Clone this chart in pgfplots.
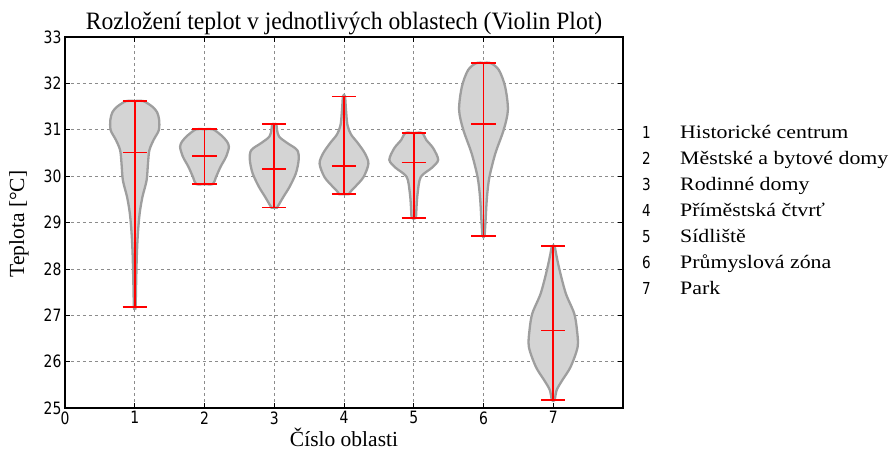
\documentclass[border=0pt]{standalone}
\usepackage{fontspec}
\setmainfont{Liberation Serif}
\newfontfamily\tickfont{DejaVu Sans}[FakeStretch=0.82]
\usepackage{graphicx}
\usepackage{pgfplots}
\pgfplotsset{compat=1.18}
\pgfplotsset{violin/.style={fill=black!17, draw=black!38, line width=2.3pt, smooth, tension=0.5, no markers},
  stat/.style={red, line width=1.6pt, no markers, unbounded coords=jump}}
\begin{document}
\begin{tikzpicture}[x=1pt,y=1pt]
\begin{axis}[at={(0,0)}, anchor=south west, scale only axis,
  width=558pt, height=371pt,
  xmin=0, xmax=8, ymin=25, ymax=33,
  xtick={0,...,7}, ytick={25,...,33},
  grid=major,
  major grid style={dash pattern=on 3pt off 3pt, black!45, line width=0.6pt},
  tick align=inside, xtick pos=both, ytick pos=both,
  major tick length=5pt,
  tick style={black, line width=0.6pt},
  axis line style={line width=1.2pt},
  ticklabel style={font=\tickfont\fontsize{17}{17}\selectfont},
  /pgf/number format/assume math mode=true,
]
% violin 1
\addplot[violin] table[x expr=1+\thisrow{w}, y=y]{
y w
27.18 0
27.18 0.012
27.7 0.02
28.3 0.03
28.76 0.045
29.19 0.07
29.55 0.11
29.91 0.17
30.28 0.19
30.56 0.21
30.78 0.27
30.99 0.345
31.21 0.35
31.38 0.32
31.5 0.25
31.62 0.12
31.62 0
31.62 -0.12
31.5 -0.25
31.38 -0.32
31.21 -0.35
30.99 -0.345
30.78 -0.27
30.56 -0.21
30.28 -0.19
29.91 -0.17
29.55 -0.11
29.19 -0.07
28.76 -0.045
28.3 -0.03
27.7 -0.02
27.18 -0.012
27.18 0
};
% violin 2
\addplot[violin] table[x expr=2+\thisrow{w}, y=y]{
y w
29.83 0
29.83 0.12
29.98 0.165
30.2 0.23
30.42 0.31
30.63 0.35
30.75 0.32
30.88 0.24
31.01 0.12
31.01 0
31.01 -0.12
30.88 -0.24
30.75 -0.32
30.63 -0.35
30.42 -0.31
30.2 -0.23
29.98 -0.165
29.83 -0.12
29.83 0
};
% violin 3
\addplot[violin] table[x expr=3+\thisrow{w}, y=y]{
y w
29.32 0
29.32 0.04
29.37 0.06
29.55 0.13
29.77 0.22
30.06 0.31
30.35 0.35
30.56 0.33
30.71 0.19
30.85 0.07
31.0 0.04
31.12 0.03
31.12 0
31.12 -0.03
31.0 -0.04
30.85 -0.07
30.71 -0.19
30.56 -0.33
30.35 -0.35
30.06 -0.31
29.77 -0.22
29.55 -0.13
29.37 -0.06
29.32 -0.04
29.32 0
};
% violin 4
\addplot[violin] table[x expr=4+\thisrow{w}, y=y]{
y w
29.61 0
29.61 0.07
29.66 0.09
29.77 0.16
29.98 0.28
30.27 0.35
30.49 0.30
30.71 0.20
30.9 0.10
31.1 0.05
31.4 0.03
31.72 0.015
31.72 0
31.72 -0.015
31.4 -0.03
31.1 -0.05
30.9 -0.10
30.71 -0.20
30.49 -0.30
30.27 -0.35
29.98 -0.28
29.77 -0.16
29.66 -0.09
29.61 -0.07
29.61 0
};
% violin 5
\addplot[violin] table[x expr=5+\thisrow{w}, y=y]{
y w
29.10 0
29.10 0.03
29.34 0.04
29.62 0.055
29.98 0.10
30.18 0.26
30.35 0.35
30.6 0.28
30.78 0.18
30.93 0.12
30.93 0
30.93 -0.12
30.78 -0.18
30.6 -0.28
30.35 -0.35
30.18 -0.26
29.98 -0.10
29.62 -0.055
29.34 -0.04
29.10 -0.03
29.10 0
};
% violin 6
\addplot[violin] table[x expr=6+\thisrow{w}, y=y]{
y w
28.71 0
28.71 0.015
29.05 0.03
29.55 0.05
29.98 0.085
30.49 0.17
31.0 0.29
31.43 0.35
31.93 0.31
32.29 0.22
32.44 0.10
32.44 0
32.44 -0.10
32.29 -0.22
31.93 -0.31
31.43 -0.35
31.0 -0.29
30.49 -0.17
29.98 -0.085
29.55 -0.05
29.05 -0.03
28.71 -0.015
28.71 0
};
% violin 7
\addplot[violin] table[x expr=7+\thisrow{w}, y=y]{
y w
25.17 0
25.17 0.02
25.39 0.05
25.6 0.13
25.89 0.25
26.32 0.35
26.68 0.34
27.04 0.30
27.47 0.18
27.98 0.09
28.33 0.04
28.49 0.02
28.49 0
28.49 -0.02
28.33 -0.04
27.98 -0.09
27.47 -0.18
27.04 -0.30
26.68 -0.34
26.32 -0.35
25.89 -0.25
25.6 -0.13
25.39 -0.05
25.17 -0.02
25.17 0
};
% extrema and means
\addplot[stat] coordinates {(1,27.18) (1,31.62) (nan,nan) (0.825,31.62) (1.175,31.62) (nan,nan) (0.825,30.51) (1.175,30.51) (nan,nan) (0.825,27.18) (1.175,27.18)};
\addplot[stat] coordinates {(2,29.83) (2,31.01) (nan,nan) (1.825,31.01) (2.175,31.01) (nan,nan) (1.825,30.43) (2.175,30.43) (nan,nan) (1.825,29.83) (2.175,29.83)};
\addplot[stat] coordinates {(3,29.32) (3,31.12) (nan,nan) (2.825,31.12) (3.175,31.12) (nan,nan) (2.825,30.15) (3.175,30.15) (nan,nan) (2.825,29.32) (3.175,29.32)};
\addplot[stat] coordinates {(4,29.61) (4,31.72) (nan,nan) (3.825,31.72) (4.175,31.72) (nan,nan) (3.825,30.22) (4.175,30.22) (nan,nan) (3.825,29.61) (4.175,29.61)};
\addplot[stat] coordinates {(5,29.10) (5,30.93) (nan,nan) (4.825,30.93) (5.175,30.93) (nan,nan) (4.825,30.29) (5.175,30.29) (nan,nan) (4.825,29.10) (5.175,29.10)};
\addplot[stat] coordinates {(6,28.71) (6,32.44) (nan,nan) (5.825,32.44) (6.175,32.44) (nan,nan) (5.825,31.12) (6.175,31.12) (nan,nan) (5.825,28.71) (6.175,28.71)};
\addplot[stat] coordinates {(7,25.17) (7,28.49) (nan,nan) (6.825,28.49) (7.175,28.49) (nan,nan) (6.825,26.67) (7.175,26.67) (nan,nan) (6.825,25.17) (7.175,25.17)};
\end{axis}
\node[anchor=base, font=\fontsize{25}{25}\selectfont] at (279,378) {\scalebox{0.944}[1]{Rozložení teplot v jednotlivých oblastech (Violin Plot)}};
\node[anchor=base, font=\fontsize{21.5}{21.5}\selectfont] at (279,-39) {Číslo oblasti};
\node[rotate=90, anchor=center, font=\fontsize{21.5}{21.5}\selectfont] at (-46,184) {Teplota [°C]};
\foreach \n/\t [count=\i from 0] in {1/Historické centrum, 2/Městské a bytové domy, 3/Rodinné domy, 4/Příměstská čtvrť, 5/Sídliště, 6/Průmyslová zóna, 7/Park}{
  \node[anchor=base west, inner sep=0pt, font=\tickfont\fontsize{16.5}{16.5}\selectfont] at (577,{269-25.9*\i}) {\n};
  \node[anchor=base west, inner sep=0pt, font=\fontsize{19}{19}\selectfont] at (615,{269-25.9*\i}) {\scalebox{1.15}[1]{\t}};
}
\pgfresetboundingbox
\path (-65,-44) rectangle (827,408);
\end{tikzpicture}
\end{document}
